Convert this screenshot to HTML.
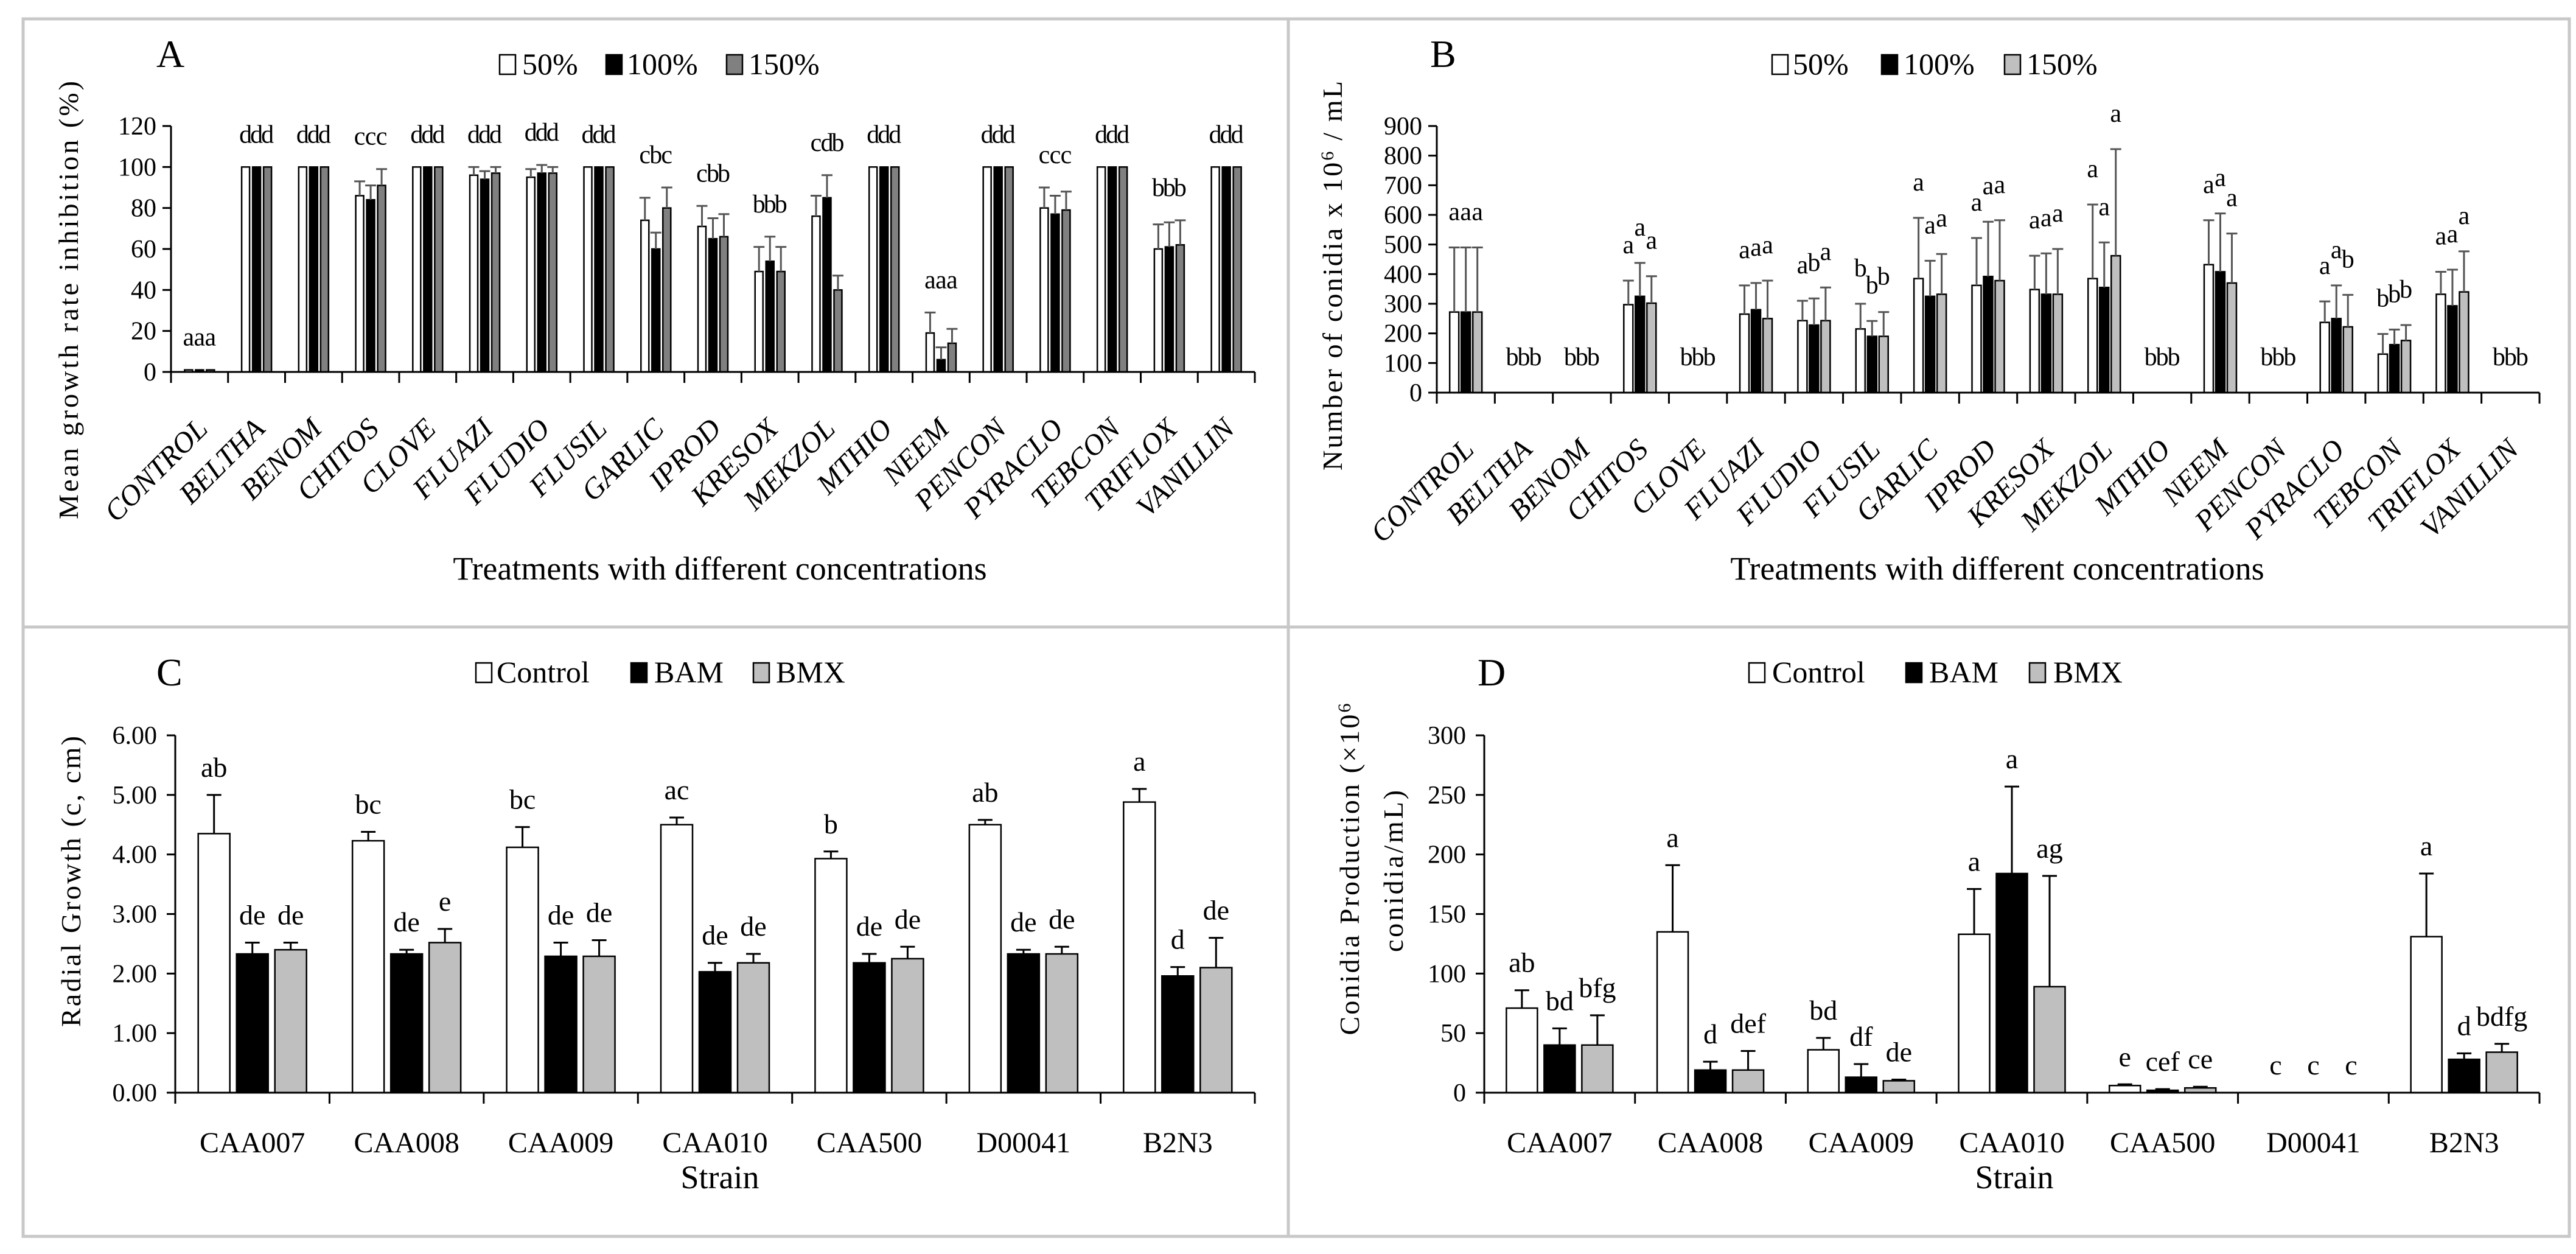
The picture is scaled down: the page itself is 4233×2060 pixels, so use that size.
<!DOCTYPE html>
<html><head><meta charset="utf-8">
<style>
html,body{margin:0;padding:0;background:#fff}
svg{display:block;font-family:"Liberation Serif",serif}
</style></head>
<body>
<svg id="fig" xmlns="http://www.w3.org/2000/svg" width="4233" height="2060" viewBox="0 0 4233 2060">
<rect x="0" y="0" width="4233" height="2060" fill="#fff"/>
<g stroke="#c8c8c8" stroke-width="5" fill="none">
<rect x="38" y="31" width="4184" height="2000"/>
<line x1="38" y1="1030" x2="4222" y2="1030"/>
<line x1="2117" y1="31" x2="2117" y2="2031"/>
</g>
</svg>
<script>
// ---------- Panel A data ----------
const treatments = ["CONTROL","BELTHA","BENOM","CHITOS","CLOVE","FLUAZI","FLUDIO","FLUSIL","GARLIC","IPROD","KRESOX","MEKZOL","MTHIO","NEEM","PENCON","PYRACLO","TEBCON","TRIFLOX","VANILLIN"];
const concSeries = ["50%","100%","150%"];
const aVal50  = [1,100,100,86,100,96,95,100,74,71,49,76,100,19,100,80,100,60,100];
const aVal100 = [1,100,100,84,100,94,97,100,60,65,54,85,100,6,100,77,100,61,100];
const aVal150 = [1,100,100,91,100,97,97,100,80,66,49,40,100,14,100,79,100,62,100];
const aErr50  = [1,100,100,93,100,100,99,100,85,81,61,86,100,29,100,90,100,72,100];
const aErr100 = [1,100,100,91,100,98,101,100,68,75,66,96,100,12,100,86,100,73,100];
const aErr150 = [1,100,100,99,100,100,100,100,90,77,61,47,100,21,100,88,100,74,100];
const aLet50  = ["a","d","d","c","d","d","d","d","c","c","b","c","d","a","d","c","d","b","d"];
const aLet100 = ["a","d","d","c","d","d","d","d","b","b","b","d","d","a","d","c","d","b","d"];
const aLet150 = ["a","d","d","c","d","d","d","d","c","b","b","b","d","a","d","c","d","b","d"];
const aTicks = [0,20,40,60,80,100,120];
// ---------- Panel B data ----------
const bVal50  = [272,0,0,297,0,265,243,215,385,362,348,385,0,432,0,237,130,332,0];
const bVal100 = [272,0,0,325,0,280,228,190,325,392,332,355,0,408,0,250,162,293,0];
const bVal150 = [272,0,0,302,0,250,243,190,332,378,332,462,0,370,0,222,176,340,0];
const bErr50  = [490,0,0,378,0,362,310,300,590,522,462,635,0,582,0,308,198,408,0];
const bErr100 = [490,0,0,438,0,370,318,242,445,577,470,507,0,605,0,362,213,415,0];
const bErr150 = [490,0,0,393,0,378,355,272,468,582,485,822,0,537,0,330,228,477,0];
const bLet50  = ["a","b","b","a","b","a","a","b","a","a","a","a","b","a","b","a","b","a","b"];
const bLet100 = ["a","b","b","a","b","a","b","b","a","a","a","a","b","a","b","a","b","a","b"];
const bLet150 = ["a","b","b","a","b","a","a","b","a","a","a","a","b","a","b","b","b","a","b"];
const bTicks = [0,100,200,300,400,500,600,700,800,900];
// ---------- Panel C data ----------
const strains = ["CAA007","CAA008","CAA009","CAA010","CAA500","D00041","B2N3"];
const treatSeries = ["Control","BAM","BMX"];
const cCtrl = [4.35,4.23,4.12,4.50,3.93,4.50,4.88];
const cBAM  = [2.33,2.33,2.29,2.03,2.18,2.33,1.96];
const cBMX  = [2.40,2.52,2.29,2.18,2.25,2.33,2.10];
const cCtrlErr = [5.00,4.38,4.46,4.62,4.05,4.58,5.10];
const cBAMErr  = [2.52,2.40,2.52,2.18,2.33,2.40,2.11];
const cBMXErr  = [2.52,2.75,2.56,2.33,2.45,2.45,2.60];
const cCtrlLet = ["ab","bc","bc","ac","b","ab","a"];
const cBAMLet  = ["de","de","de","de","de","de","d"];
const cBMXLet  = ["de","e","de","de","de","de","de"];
const cTicks = ["0.00","1.00","2.00","3.00","4.00","5.00","6.00"];
// ---------- Panel D data ----------
const dCtrl = [71,135,36,133,6,0,131];
const dBAM  = [40,19,13,184,2,0,28];
const dBMX  = [40,19,10,89,4,0,34];
const dCtrlErr = [86,191,46,171,7,0,184];
const dBAMErr  = [54,26,24,257,3,0,33];
const dBMXErr  = [65,35,11,182,5,0,41];
const dCtrlLet = ["ab","a","bd","a","e","c","a"];
const dBAMLet  = ["bd","d","df","a","cef","c","d"];
const dBMXLet  = ["bfg","def","de","ag","ce","c","bdfg"];
const dTicks = [0,50,100,150,200,250,300];

const NS="http://www.w3.org/2000/svg";
const svg=document.getElementById('fig');
function mk(tag,attrs,parent,text){const e=document.createElementNS(NS,tag);for(const k in attrs)e.setAttribute(k,attrs[k]);if(text!==undefined)e.textContent=text;(parent||svg).appendChild(e);return e;}

function panel(cfg){
  const g=mk('g',{});
  
  
  const n=cfg.cats.length, gw=(cfg.x1-cfg.x0)/n;
  const ys=v=>cfg.y0-(v-cfg.min)/(cfg.max-cfg.min)*(cfg.y0-cfg.yTop);
  const xc=i=>cfg.x0+gw*(i+0.5);
  const pl=mk('text',{x:cfg.lx,y:cfg.ly,'font-size':64},g,cfg.letter);
  
  
  cfg.ticks.forEach(t=>{
    const v=parseFloat(t);const y=ys(v);
    const tl=mk('line',{x1:cfg.x0-14,y1:y,x2:cfg.x0,y2:y,stroke:'#000','stroke-width':3},g);
    
    
    const tt=mk('text',{x:cfg.x0-cfg.tickGap,y:y+14,'font-size':42,'text-anchor':'end'},g,String(t));
    
    
  });
  const nS=cfg.vals.length;
  for(let i=0;i<n;i++){
    let gmax=0;
    for(let s=0;s<nS;s++)gmax=Math.max(gmax,cfg.errs[s][i]);
    for(let s=0;s<nS;s++){
      const v=cfg.vals[s][i], e=cfg.errs[s][i];
      const cx=xc(i)+(s-(nS-1)/2)*cfg.step;
      if(v>0){
        const r=mk('rect',{x:cx-cfg.bw/2,y:ys(v),width:cfg.bw,height:cfg.y0-ys(v),fill:cfg.colors[s],stroke:'#000','stroke-width':2.5},g);
        
        
      }
      if(e>v){
        const el=mk('path',{d:`M${cx},${ys(v)}V${ys(e)}M${cx-cfg.cap},${ys(e)}H${cx+cfg.cap}`,stroke:cfg.errColor,'stroke-width':3,fill:'none'},g);
        
        
      }
      const ly=cfg.groupLetters?ys(gmax)-cfg.letGap:ys(Math.max(e,v))-cfg.letGap;
      const lt=mk('text',{x:cx,y:ly,'font-size':cfg.letSize,'text-anchor':'middle'},g,cfg.lets[s][i]);
      
      
    }
  }
  const ax=mk('line',{x1:cfg.x0,y1:cfg.yTop,x2:cfg.x0,y2:cfg.y0,stroke:'#000','stroke-width':3},g);
  
  
  const xa=mk('line',{x1:cfg.x0-14,y1:cfg.y0,x2:cfg.x1,y2:cfg.y0,stroke:'#000','stroke-width':3},g);
  
  
  for(let i=0;i<=n;i++){
    const x=cfg.x0+gw*i;
    const t=mk('line',{x1:x,y1:cfg.y0,x2:x,y2:cfg.y0+18,stroke:'#000','stroke-width':3},g);
    
    
  }
  cfg.cats.forEach((c,i)=>{
    let t;
    if(cfg.rotate){
      const ax_=xc(i)+16, ay=cfg.y0+96;
      t=mk('text',{x:ax_,y:ay,'font-size':48,'font-style':'italic','text-anchor':'end',transform:`rotate(-45 ${ax_} ${ay})`},g,c);
    }else{
      t=mk('text',{x:xc(i),y:cfg.y0+98,'font-size':48,'text-anchor':'middle'},g,c);
    }
    
    
  });
  const xt=mk('text',{x:cfg.xtX,y:cfg.xtY,'font-size':54,'text-anchor':'middle'},g,cfg.xTitle);
  
  
  cfg.yTitles.forEach(yt=>{
    const t=mk('text',{x:yt.x,y:yt.y,'font-size':46,'text-anchor':'middle',textLength:yt.len,lengthAdjust:'spacing',transform:`rotate(-90 ${yt.x} ${yt.y})`},g);
    t.innerHTML=yt.html;
    
    
  });
  cfg.legend.forEach((L,s)=>{
    const lg=mk('g',{},g);
    
    
    mk('rect',{x:L.bx,y:cfg.legY-16,width:26,height:32,fill:cfg.colors[s],stroke:'#000','stroke-width':2.5},lg);
    mk('text',{x:L.tx,y:cfg.legY+16,'font-size':50},lg,cfg.series[s]);
  });
}

panel({name:'panel-a-growth-inhibition',letter:'A',lx:257,ly:110,cats:treatments,series:concSeries,
  x0:281,x1:2062,yTop:207,y0:611,min:0,max:120,ticks:aTicks,tickGap:24,
  vals:[aVal50,aVal100,aVal150],errs:[aErr50,aErr100,aErr150],lets:[aLet50,aLet100,aLet150],
  colors:['#fff','#000','#808080'],errColor:'#555',bw:13,step:18,cap:9,groupLetters:true,letGap:40,letSize:42,
  rotate:true,xTitle:'Treatments with different concentrations',xtX:1183,xtY:952,
  yTitles:[{x:128,y:493,len:720,html:'Mean growth  rate inhibition (%)'}],
  legY:106,legend:[{bx:821,tx:858},{bx:996,tx:1030},{bx:1194,tx:1230}]});

panel({name:'panel-b-conidia-number',letter:'B',lx:2350,ly:110,cats:treatments,series:concSeries,
  x0:2361,x1:4173,yTop:207,y0:645,min:0,max:900,ticks:bTicks,tickGap:24,
  vals:[bVal50,bVal100,bVal150],errs:[bErr50,bErr100,bErr150],lets:[bLet50,bLet100,bLet150],
  colors:['#fff','#000','#bfbfbf'],errColor:'#555',bw:15,step:19,cap:9,groupLetters:false,letGap:45,letSize:42,
  rotate:true,xTitle:'Treatments with different concentrations',xtX:3282,xtY:952,
  yTitles:[{x:2205,y:453,len:640,html:'Number of conidia x 10<tspan dy="-14" font-size="30">6</tspan><tspan dy="14"> / mL</tspan>'}],
  legY:106,legend:[{bx:2912,tx:2946},{bx:3092,tx:3128},{bx:3294,tx:3330}]});

panel({name:'panel-c-radial-growth',letter:'C',lx:257,ly:1126,cats:strains,series:treatSeries,
  x0:288,x1:2062,yTop:1208,y0:1795,min:0,max:6,ticks:cTicks,tickGap:30,
  vals:[cCtrl,cBAM,cBMX],errs:[cCtrlErr,cBAMErr,cBMXErr],lets:[cCtrlLet,cBAMLet,cBMXLet],
  colors:['#fff','#000','#bfbfbf'],errColor:'#000',bw:52,step:63,cap:12,groupLetters:false,letGap:30,letSize:46,
  rotate:false,xTitle:'Strain',xtX:1183,xtY:1952,
  yTitles:[{x:132,y:1448,len:478,html:'Radial Growth (c, cm)'}],
  legY:1105,legend:[{bx:782,tx:816},{bx:1037,tx:1075},{bx:1238,tx:1275}]});

panel({name:'panel-d-conidia-production',letter:'D',lx:2428,ly:1126,cats:strains,series:treatSeries,
  x0:2439,x1:4173,yTop:1208,y0:1795,min:0,max:300,ticks:dTicks,tickGap:30,
  vals:[dCtrl,dBAM,dBMX],errs:[dCtrlErr,dBAMErr,dBMXErr],lets:[dCtrlLet,dBAMLet,dBMXLet],
  colors:['#fff','#000','#bfbfbf'],errColor:'#000',bw:51,step:62,cap:12,groupLetters:false,letGap:30,letSize:46,
  rotate:false,xTitle:'Strain',xtX:3310,xtY:1952,
  yTitles:[{x:2233,y:1428,len:545,html:'Conidia Production (×10<tspan dy="-14" font-size="30">6</tspan>'},
           {x:2305,y:1431,len:266,html:'conidia/mL)'}],
  legY:1105,legend:[{bx:2874,tx:2912},{bx:3132,tx:3170},{bx:3335,tx:3374}]});
</script>
</body></html>
